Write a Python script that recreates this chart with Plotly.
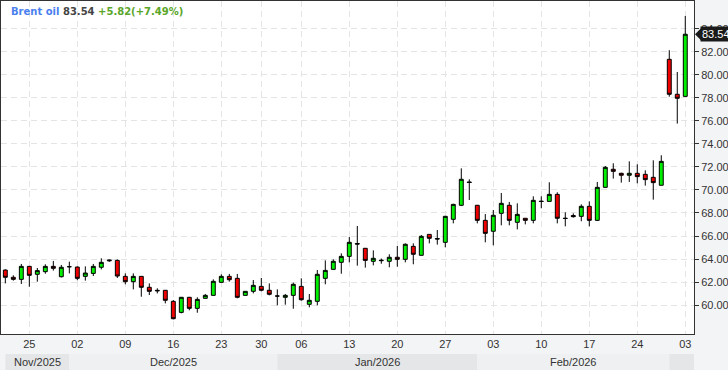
import plotly.graph_objects as go
import pandas as pd

# ---------------- data ----------------
dates = [
    "2025-11-21", "2025-11-23", "2025-11-24", "2025-11-25", "2025-11-26", "2025-11-27", "2025-11-28",
    "2025-11-30", "2025-12-01", "2025-12-02", "2025-12-03", "2025-12-04", "2025-12-05",
    "2025-12-07", "2025-12-08", "2025-12-09", "2025-12-10", "2025-12-11", "2025-12-12",
    "2025-12-14", "2025-12-15", "2025-12-16", "2025-12-17", "2025-12-18", "2025-12-19",
    "2025-12-21", "2025-12-22", "2025-12-23", "2025-12-24", "2025-12-26",
    "2025-12-28", "2025-12-29", "2025-12-30", "2025-12-31", "2026-01-02",
    "2026-01-04", "2026-01-05", "2026-01-06", "2026-01-07", "2026-01-08", "2026-01-09",
    "2026-01-11", "2026-01-12", "2026-01-13", "2026-01-14", "2026-01-15", "2026-01-16",
    "2026-01-18", "2026-01-19", "2026-01-20", "2026-01-21", "2026-01-22", "2026-01-23",
    "2026-01-25", "2026-01-26", "2026-01-27", "2026-01-28", "2026-01-29", "2026-01-30",
    "2026-02-01", "2026-02-02", "2026-02-03", "2026-02-04", "2026-02-05", "2026-02-06",
    "2026-02-08", "2026-02-09", "2026-02-10", "2026-02-11", "2026-02-12", "2026-02-13",
    "2026-02-15", "2026-02-16", "2026-02-17", "2026-02-18", "2026-02-19", "2026-02-20",
    "2026-02-22", "2026-02-23", "2026-02-24", "2026-02-25", "2026-02-26", "2026-02-27",
    "2026-03-01", "2026-03-02", "2026-03-03",
]
opens = [
    63.04, 62.41, 62.23, 63.36, 62.67, 62.90, 63.36,
    62.46, 63.33, 63.30, 62.49, 62.75, 63.28,
    63.84, 63.88, 62.49, 62.03, 62.49, 61.54,
    61.22, 61.28, 60.32, 59.36, 60.67, 59.71,
    60.58, 60.84, 61.97, 62.49, 62.32,
    60.84, 61.19, 61.62, 61.28, 60.78,
    60.67, 60.84, 61.62, 60.06, 60.32, 62.32,
    63.10, 63.71, 64.23, 65.35, 64.93, 63.80,
    63.90, 63.80, 64.15, 63.97, 65.10, 64.32,
    66.14, 65.78, 65.45, 67.45, 68.67, 70.70,
    68.67, 67.36, 66.41, 67.97, 68.67, 67.19,
    67.54, 67.36, 69.03, 69.01, 69.62, 67.55,
    67.78, 67.71, 68.58, 67.36, 70.23, 71.80,
    71.45, 71.28, 71.45, 71.36, 71.10, 70.41,
    81.36, 78.32, 78.14,
]
highs = [
    63.10, 62.58, 63.57, 63.40, 63.22, 63.54, 63.83,
    63.48, 63.77, 63.35, 63.36, 63.57, 64.06,
    63.95, 63.97, 62.75, 62.75, 62.50, 61.88,
    61.45, 61.30, 60.43, 60.70, 60.70, 60.67,
    60.96, 62.23, 62.67, 62.70, 62.70,
    61.20, 62.17, 62.35, 61.88, 61.36,
    60.96, 61.94, 62.32, 60.96, 63.04, 63.88,
    63.97, 64.49, 65.91, 66.87, 64.95, 64.75,
    64.04, 64.41, 65.13, 65.36, 65.36, 66.09,
    66.15, 66.52, 67.75, 68.80, 71.88, 70.93,
    68.70, 67.91, 68.26, 69.74, 68.96, 68.84,
    67.55, 69.45, 69.45, 70.67, 69.80, 68.06,
    67.97, 68.75, 69.01, 70.70, 72.09, 72.32,
    71.50, 72.49, 72.23, 71.71, 72.58, 73.02,
    82.15, 80.26, 85.13,
]
lows = [
    61.88, 62.12, 61.83, 61.59, 62.03, 62.72, 62.99,
    62.40, 62.75, 62.15, 62.12, 62.52, 63.10,
    63.75, 62.35, 61.80, 61.36, 60.72, 60.87,
    61.01, 60.14, 58.75, 59.28, 59.54, 59.33,
    60.55, 60.80, 61.95, 62.03, 60.58,
    60.82, 61.01, 61.19, 60.84, 59.97,
    60.03, 59.68, 60.37, 59.80, 59.97, 61.80,
    63.05, 62.72, 63.71, 63.42, 63.25, 63.45,
    63.59, 63.28, 63.33, 63.71, 63.54, 64.30,
    65.36, 65.25, 65.01, 67.10, 68.60, 69.13,
    67.10, 65.45, 65.19, 66.93, 66.93, 66.58,
    67.01, 67.10, 68.41, 69.00, 67.10, 66.84,
    67.60, 67.28, 66.84, 67.30, 70.20, 70.99,
    70.64, 70.70, 70.58, 70.38, 69.16, 70.40,
    78.11, 75.77, 78.10,
]
closes = [
    62.41, 62.23, 63.36, 62.58, 62.99, 63.36, 63.19,
    63.28, 63.33, 62.32, 62.78, 63.36, 63.71,
    63.90, 62.52, 62.03, 62.49, 61.54, 61.19,
    61.27, 60.41, 58.81, 60.67, 59.71, 60.49,
    60.84, 62.06, 62.49, 62.20, 60.67,
    61.19, 61.71, 61.28, 60.93, 60.78,
    60.84, 61.80, 60.46, 60.41, 62.67, 63.01,
    63.80, 64.23, 65.45, 65.30, 63.88, 64.06,
    63.86, 64.15, 63.97, 65.28, 64.41, 65.97,
    65.80, 65.74, 67.71, 68.75, 70.93, 70.65,
    67.36, 66.23, 67.80, 68.84, 67.36, 67.88,
    67.36, 69.10, 69.00, 69.62, 67.54, 67.52,
    67.68, 68.58, 67.36, 70.23, 71.97, 71.62,
    71.28, 71.45, 71.16, 70.90, 70.64, 72.49,
    78.32, 77.97, 83.54,
]
y_ticks = [60, 62, 64, 66, 68, 70, 72, 74, 76, 78, 80, 82, 84]
instrument = "Brent oil"
change = "+5.82"
change_pct = "(+7.49%)"

# ---------------- figure ----------------
W, H = 728, 370
ML, MR, MT, MB = 1, 34, 1, 36
plot_h = H - MT - MB

FONT = "Liberation Sans, Arial, sans-serif"

fig = go.Figure(go.Candlestick(
    x=dates, open=opens, high=highs, low=lows, close=closes,
    increasing=dict(fillcolor="#00ee00", line=dict(color="#000000", width=1)),
    decreasing=dict(fillcolor="#ee0000", line=dict(color="#000000", width=1)),
    whiskerwidth=0, hoverinfo="skip", showlegend=False,
))

d = pd.to_datetime(pd.Series(dates))
tick_idx = [i for i, t in enumerate(d) if t.weekday() == 1]
tickvals = [dates[i] for i in tick_idx]
ticktext = [d[i].strftime("%d") for i in tick_idx]

x_lo, x_hi = -0.54, len(dates) + 0.09
y_lo, y_hi = 57.48, 86.43

# month bands
month_keys = list(dict.fromkeys((t.year, t.month) for t in d))
starts = []
for k in month_keys:
    starts.append(next(i for i, t in enumerate(d) if (t.year, t.month) == k))
band_top = -(354 - (MT + plot_h)) / plot_h
band_bot = -(H - (MT + plot_h)) / plot_h
shapes = []
annotations = []
for j, k in enumerate(month_keys):
    x0 = starts[j]
    x1 = starts[j + 1] if j + 1 < len(starts) else x_hi
    shapes.append(dict(type="rect", xref="x", yref="paper", x0=x0, x1=x1,
                       y0=band_bot, y1=band_top, fillcolor="#e5e6e8" if j % 2 == 0 else "#eef0f2",
                       line=dict(width=0), layer="below"))
    if x1 - x0 >= 5:
        annotations.append(dict(xref="x", yref="paper", x=(x0 + x1) / 2, y=(band_top + band_bot) / 2,
                                text=d[starts[j]].strftime("%b/%Y"), showarrow=False,
                                font=dict(family=FONT, size=11, color="#333333"),
                                xanchor="center", yanchor="middle"))

# last price marker
last = closes[-1]
shapes.append(dict(type="path", xref="paper", yref="y", xsizemode="pixel", ysizemode="pixel",
                   xanchor=1, yanchor=last, path="M1,0 L8,7 L8,-7 Z",
                   fillcolor="#1a1a1a", line=dict(width=0), layer="above"))
annotations.append(dict(xref="paper", yref="y", x=1, y=last, xanchor="left", yanchor="middle",
                        xshift=6, text=f"{last:.2f}", showarrow=False, bgcolor="#1a1a1a",
                        borderpad=1, font=dict(family=FONT, size=11, color="#ffffff")))

# header
annotations.append(dict(
    xref="paper", yref="paper", x=0, y=1, xanchor="left", yanchor="top", xshift=8, yshift=-3,
    showarrow=False, align="left",
    text=(f"<b><span style='color:#4a7fef'>{instrument}</span> "
          f"<span style='color:#444444'>{last:.2f}</span> "
          f"<span style='color:#5aa629'>{change}{change_pct}</span></b>"),
    font=dict(family="DejaVu Sans, sans-serif", size=10),
))

grid = dict(showgrid=True, gridcolor="#e4e4e4", gridwidth=1, griddash="6px,4px")

fig.update_layout(
    width=W, height=H,
    margin=dict(l=ML, r=MR, t=MT, b=MB, autoexpand=False),
    paper_bgcolor="#f3f4f6", plot_bgcolor="#ffffff",
    shapes=shapes, annotations=annotations,
    showlegend=False,
    xaxis=dict(type="category", range=[x_lo, x_hi], tickmode="array", automargin=False,
               tickvals=tickvals, ticktext=ticktext, ticks="",
               showline=True, mirror=True, linecolor="#333333", linewidth=1,
               tickfont=dict(family=FONT, size=11, color="#333333"),
               rangeslider=dict(visible=False), zeroline=False, fixedrange=True, **grid),
    yaxis=dict(side="right", range=[y_lo, y_hi], tickmode="array", tickvals=y_ticks,
               tickformat=".2f", ticks="outside", ticklen=4, tickcolor="#333333", automargin=False,
               showline=True, mirror=True, linecolor="#333333", linewidth=1,
               tickfont=dict(family=FONT, size=11, color="#333333"),
               zeroline=False, fixedrange=True, **grid),
)

fig.write_html("out.html", config={"displayModeBar": False, "staticPlot": True},
               post_script="document.body.style.margin='0';document.body.style.overflow='hidden';")
